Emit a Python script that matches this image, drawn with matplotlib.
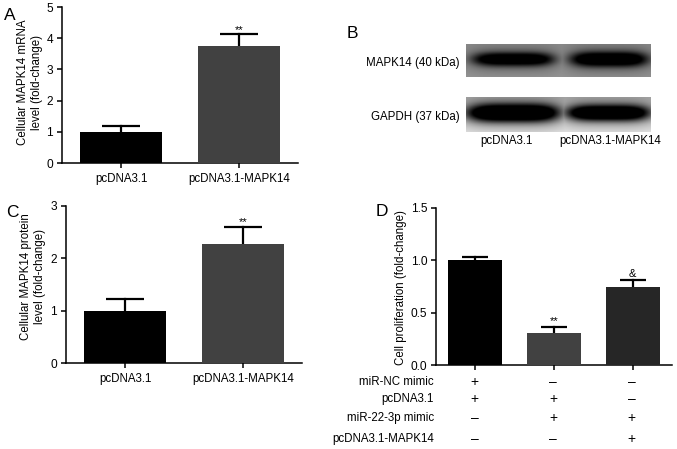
import numpy as np
import matplotlib
matplotlib.use("Agg")
import matplotlib.pyplot as plt

plt.rcParams['font.family'] = ['Liberation Sans', 'DejaVu Sans']
plt.rcParams['font.size'] = 8.3

W, H = 677, 449

# Panel A
labels_ab = ["pcDNA3.1", "pcDNA3.1-MAPK14"]
mrna_values = [1.0, 3.75]
mrna_upper = [1.17, 4.15]
mrna_marks = ["", "**"]

# Panel C
protein_values = [1.0, 2.28]
protein_upper = [1.22, 2.6]
protein_marks = ["", "**"]

# Panel D
prolif_values = [1.0, 0.31, 0.75]
prolif_upper = [1.03, 0.365, 0.815]
prolif_marks = ["", "**", "&"]
prolif_colors = ["#000000", "#414141", "#262626"]
row_names = ["miR-NC mimic", "pcDNA3.1", "miR-22-3p mimic", "pcDNA3.1-MAPK14"]
row_signs = [["+", "–", "–"], ["+", "+", "–"], ["–", "+", "+"], ["–", "–", "+"]]

# Panel B: band centre, half width, half height, darkness for each lane
blot_top = [(0.255, 0.215, 0.2, 1.5), (0.775, 0.205, 0.22, 1.6)]
blot_bottom = [(0.255, 0.245, 0.25, 1.8), (0.77, 0.22, 0.22, 1.7)]


def px_axes(x0, y_top, x1, y_bottom):
    return fig.add_axes([x0 / W, 1 - y_bottom / H, (x1 - x0) / W, (y_bottom - y_top) / H])


def bar_panel(box, values, upper, marks, colors, xlabels, ylim, yticks, yfmt, mark_gap):
    ax = px_axes(*box)
    x = np.arange(len(values))
    cap = 28 if len(values) == 2 else 19
    ax.bar(x, values, width=0.69, color=colors, zorder=3)
    for xi, v, u, m in zip(x, values, upper, marks):
        ax.plot([xi, xi], [v, u], color="#000000", lw=1.6, zorder=2)
        ax.plot(xi, u, marker='_', ms=cap, mew=1.6, color="#000000", zorder=2, clip_on=False)
        if m:
            ax.text(xi, u + mark_gap, m, ha='center', va='center', fontsize=8)
    ax.set_xlim(-0.5, len(values) - 0.5)
    ax.set_ylim(*ylim)
    ax.set_xticks(x)
    ax.set_xticklabels(xlabels)
    ax.set_yticks(yticks)
    ax.set_yticklabels([yfmt % t for t in yticks], fontsize=8.6)
    ax.tick_params(axis='both', length=3.4, width=1.1, pad=3)
    ax.tick_params(axis='x', pad=4)
    for s in ['top', 'right']:
        ax.spines[s].set_visible(False)
    for s in ['left', 'bottom']:
        ax.spines[s].set_linewidth(1.1)
    ax.patch.set_alpha(0)
    return ax


def blot(box, bands, bg_top, bg_bottom, cy):
    ax = px_axes(*box)
    yy, xx = np.mgrid[0:1:60j, 0:1:200j]
    img = bg_top + (bg_bottom - bg_top) * yy
    core = np.zeros_like(img)
    halo = np.zeros_like(img)
    for cx, hw, hh, d in bands:
        r = (np.abs(xx - cx) / hw) ** 4 + (np.abs(yy - cy) / hh) ** 2
        core = np.maximum(core, d * np.exp(-r ** 1.2))
        r = (np.abs(xx - cx) / (hw * 1.15)) ** 4 + (np.abs(yy - cy) / (hh * 1.9)) ** 2
        halo = np.maximum(halo, 0.4 * np.exp(-r))
    img = img * (1 - np.clip(core, 0, 1)) * (1 - halo)
    ax.imshow(img, cmap='gray', vmin=0, vmax=1, aspect='auto', interpolation='bilinear')
    ax.axis('off')


fig = plt.figure(figsize=(W / 100, H / 100), dpi=100)

bar_panel((62, 7, 298, 163), mrna_values, mrna_upper, mrna_marks, ["#000000", "#414141"],
          labels_ab, (0, 5), [0, 1, 2, 3, 4, 5], "%d", 0.12)
bar_panel((66, 206, 302, 363), protein_values, protein_upper, protein_marks, ["#000000", "#414141"],
          labels_ab, (0, 3), [0, 1, 2, 3], "%d", 0.1)
ax_d = bar_panel((436, 208, 672, 365), prolif_values, prolif_upper, prolif_marks, prolif_colors,
                 [""] * 3, (0, 1.5), [0.0, 0.5, 1.0, 1.5], "%.1f", 0.055)

blot((466, 44, 651, 77), blot_top, 0.55, 0.58, 0.46)
blot((466, 97, 651, 132), blot_bottom, 0.68, 0.9, 0.45)

# sign table under panel D
row_y = [382, 399, 418, 439]
for name, signs, yp in zip(row_names, row_signs, row_y):
    fig.text(434 / W, 1 - yp / H, name, ha='right', va='center')
    for i, sign in enumerate(signs):
        xp = 474.5 + i * 78.67
        fig.text(xp / W, 1 - yp / H, sign, ha='center', va='center', fontsize=10)

# axis titles
fig.text(30 / W, 1 - 82 / H, "Cellular MAPK14 mRNA\nlevel (fold-change)", rotation=90,
         ha='center', va='center', multialignment='center', linespacing=1.25)
fig.text(33 / W, 1 - 277 / H, "Cellular MAPK14 protein\nlevel (fold-change)", rotation=90,
         ha='center', va='center', multialignment='center', linespacing=1.25)
fig.text(401 / W, 1 - 288 / H, "Cell proliferation (fold-change)", rotation=90,
         ha='center', va='center')

# blot labels
fig.text(460 / W, 1 - 63 / H, "MAPK14 (40 kDa)", ha='right', va='center')
fig.text(460 / W, 1 - 117 / H, "GAPDH (37 kDa)", ha='right', va='center')
fig.text(506.5 / W, 1 - 141 / H, "pcDNA3.1", ha='center', va='center')
fig.text(610 / W, 1 - 141 / H, "pcDNA3.1-MAPK14", ha='center', va='center')

# panel letters
for letter, xp, yp in [("A", 10, 16), ("B", 352, 34), ("C", 12, 212), ("D", 382, 211)]:
    fig.text(xp / W, 1 - yp / H, letter, ha='center', va='center', fontsize=12.5)

fig.savefig("out.png", dpi=100)
